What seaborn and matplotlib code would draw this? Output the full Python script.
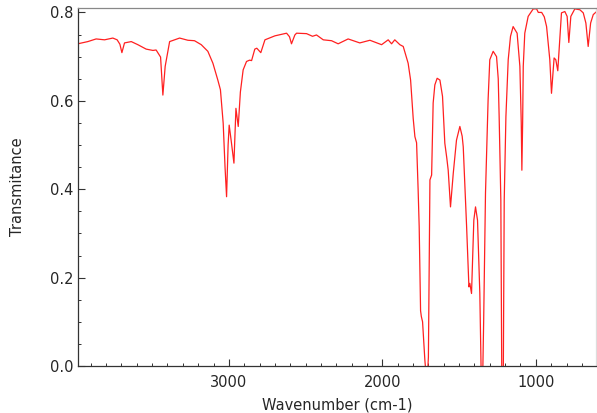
import numpy as np
import pandas as pd
import matplotlib
matplotlib.use("Agg")
import matplotlib.pyplot as plt
from matplotlib.ticker import MultipleLocator
import seaborn as sns

# IR spectrum (wavenumber in cm-1, transmittance)
wavenumber = [
    3984, 3919, 3865, 3810, 3756, 3728, 3710, 3697, 3680, 3636, 3593, 3539,
    3495, 3474, 3445, 3430, 3415, 3386, 3321, 3267, 3224, 3180, 3137, 3104,
    3072, 3055, 3037, 3025, 3015, 3005, 2998, 2985, 2967, 2954, 2939, 2925,
    2907, 2885, 2865, 2852, 2831, 2818, 2800, 2792, 2765, 2700, 2624, 2605,
    2592, 2570, 2559, 2494, 2455, 2429, 2385, 2331, 2288, 2223, 2147, 2081,
    2005, 1962, 1940, 1919, 1886, 1864, 1832, 1816, 1799, 1788, 1777, 1767,
    1760, 1751, 1746, 1738, 1723, 1715, 1706, 1700, 1690, 1679, 1669, 1658,
    1643, 1625, 1608, 1593, 1580, 1571, 1556, 1538, 1517, 1495, 1480, 1473,
    1451, 1436, 1430, 1419, 1404, 1393, 1380, 1365, 1356, 1346, 1340, 1328,
    1311, 1300, 1278, 1256, 1245, 1239, 1228, 1222, 1212, 1206, 1195, 1180,
    1165, 1148, 1122, 1104, 1095, 1091, 1086, 1082, 1072, 1050, 1017, 995,
    984, 962, 945, 930, 909, 898, 881, 870, 857, 844, 833, 811,
    796, 785, 772, 746, 713, 691, 674, 659, 643, 626, 604,
]
transmittance = [
    0.729, 0.734, 0.740, 0.738, 0.742, 0.738, 0.728, 0.709, 0.731, 0.734, 0.727, 0.717,
    0.714, 0.715, 0.699, 0.613, 0.678, 0.734, 0.742, 0.737, 0.736, 0.727, 0.712, 0.685,
    0.647, 0.625, 0.549, 0.450, 0.383, 0.500, 0.545, 0.510, 0.459, 0.583, 0.542, 0.620,
    0.670, 0.689, 0.692, 0.691, 0.717, 0.719, 0.712, 0.709, 0.738, 0.747, 0.753, 0.745,
    0.729, 0.749, 0.753, 0.752, 0.746, 0.749, 0.738, 0.736, 0.729, 0.740, 0.731, 0.737,
    0.727, 0.738, 0.729, 0.738, 0.727, 0.723, 0.685, 0.647, 0.560, 0.519, 0.505, 0.400,
    0.315, 0.125, 0.112, 0.100, 0.013, -0.02, -0.02, 0.020, 0.421, 0.432, 0.595, 0.636,
    0.651, 0.647, 0.610, 0.504, 0.470, 0.443, 0.360, 0.436, 0.511, 0.542, 0.520, 0.496,
    0.315, 0.179, 0.187, 0.164, 0.330, 0.360, 0.330, 0.165, -0.02, -0.02, 0.100, 0.391,
    0.602, 0.693, 0.712, 0.700, 0.650, 0.564, 0.375, -0.02, -0.02, 0.375, 0.564, 0.693,
    0.746, 0.768, 0.753, 0.678, 0.550, 0.443, 0.550, 0.678, 0.753, 0.791, 0.808, 0.808,
    0.800, 0.800, 0.790, 0.768, 0.693, 0.617, 0.697, 0.693, 0.668, 0.738, 0.799, 0.802,
    0.791, 0.732, 0.791, 0.808, 0.806, 0.799, 0.776, 0.723, 0.776, 0.795, 0.802,
]

df = pd.DataFrame({"Wavenumber": wavenumber, "Transmitance": transmittance})

sns.set_style("white")
plt.rcParams["font.family"] = ["DejaVu Sans"]

fig, ax = plt.subplots(figsize=(5.97, 4.13), dpi=100)
fig.subplots_adjust(left=78 / 597, right=596 / 597, top=1 - 8 / 413, bottom=1 - 366 / 413)

sns.lineplot(data=df, x="Wavenumber", y="Transmitance", ax=ax,
             color="#ff2020", linewidth=0.9, sort=False)

ax.set_xlim(3983, 608)
ax.set_ylim(0, 0.81)
ax.xaxis.set_major_locator(MultipleLocator(1000))
ax.xaxis.set_minor_locator(MultipleLocator(100))
ax.yaxis.set_major_locator(MultipleLocator(0.2))
ax.yaxis.set_minor_locator(MultipleLocator(0.05))
ax.tick_params(which="both", direction="in", left=True, bottom=True,
               top=False, right=False, labelsize=10.5, color="#333333")
ax.tick_params(which="major", length=5, width=0.8)
ax.tick_params(which="minor", length=2.5, width=0.7)
ax.tick_params(axis="x", pad=6.5)

ax.set_xlabel("Wavenumber (cm-1)", fontsize=10.5, labelpad=5.5)
ax.set_ylabel("Transmitance", fontsize=10.5, labelpad=18)

ax.spines["left"].set_color("#333333")
ax.spines["bottom"].set_color("#333333")
ax.spines["top"].set_color("#888888")
ax.spines["right"].set_color("#dddddd")
for s in ax.spines.values():
    s.set_linewidth(0.9)

fig.savefig("out.png", dpi=100)
